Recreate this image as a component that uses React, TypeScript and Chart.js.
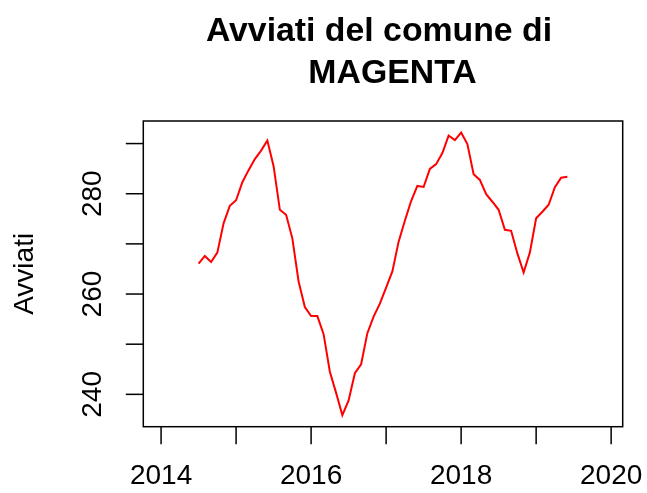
import React, { useEffect, useRef } from "react";
import { Chart, registerables } from "chart.js";

Chart.register(...registerables);

// Monthly series, starting January 2014 (centred moving average: first and last 6 months missing)
const startYear = 2014;
const avviati: (number | null)[] = [
  null, null, null, null, null, null,
  266.05, 267.6, 266.4, 268.25, 274.1, 277.6,
  278.7, 282.3, 284.7, 286.9, 288.6, 290.6,
  285.5, 276.8, 275.8, 271.1, 262.5, 257.4,
  255.6, 255.6, 252.0, 244.5, 240.3, 235.85,
  238.8, 244.2, 246.0, 252.2, 255.5, 258.1,
  261.3, 264.5, 270.45, 274.6, 278.55, 281.55,
  281.35, 284.95, 285.9, 288.1, 291.6, 290.7,
  292.2, 289.9, 283.9, 282.75, 279.9, 278.4,
  276.8, 272.8, 272.6, 268.1, 264.3, 268.3,
  275.1, 276.4, 277.8, 281.3, 283.2, 283.4,
  null, null, null, null, null, null,
];

const xTicks = [2014, 2015, 2016, 2017, 2018, 2019, 2020];
const xTickLabels = ["2014", "", "2016", "", "2018", "", "2020"];
const yTicks = [240, 250, 260, 270, 280, 290];
const yTickLabels = ["240", "", "260", "", "280", ""];
const titleLines = ["Avviati del comune di", "MAGENTA"];
const yTitle = "Avviati";

const FONT = "'Liberation Sans', Arial, Helvetica, sans-serif";

const rAxesPlugin = {
  id: "rAxes",
  afterDraw(chart: any) {
    const { ctx, chartArea, scales } = chart;
    const { left, right, top, bottom } = chartArea;
    const xs = scales.x;
    const ys = scales.y;
    const tick = 17.5;
    ctx.save();
    ctx.strokeStyle = "#000";
    ctx.fillStyle = "#000";
    ctx.lineWidth = 1.5;
    // box
    ctx.strokeRect(left, top, right - left, bottom - top);

    // x axis ticks & labels
    ctx.font = `28px ${FONT}`;
    ctx.textAlign = "center";
    ctx.textBaseline = "alphabetic";
    xTicks.forEach((v, i) => {
      const px = xs.getPixelForValue(v);
      ctx.beginPath();
      ctx.moveTo(px, bottom);
      ctx.lineTo(px, bottom + tick);
      ctx.stroke();
      if (xTickLabels[i]) ctx.fillText(xTickLabels[i], px, bottom + 57);
    });

    // y axis ticks & labels (rotated, R style)
    yTicks.forEach((v, i) => {
      const py = ys.getPixelForValue(v);
      ctx.beginPath();
      ctx.moveTo(left, py);
      ctx.lineTo(left - tick, py);
      ctx.stroke();
      if (yTickLabels[i]) {
        ctx.save();
        ctx.translate(left - 42.5, py);
        ctx.rotate(-Math.PI / 2);
        ctx.fillText(yTickLabels[i], 0, 0);
        ctx.restore();
      }
    });

    // y title
    ctx.save();
    ctx.translate(left - 110, (top + bottom) / 2);
    ctx.rotate(-Math.PI / 2);
    ctx.fillText(yTitle, 0, 0);
    ctx.restore();

    // main title
    const cx = (left + right) / 2;
    ctx.font = `bold 33.8px ${FONT}`;
    ctx.fillText(titleLines[0], cx - 4, top - 80);
    ctx.fillText(titleLines[1], cx + 9.5, top - 38.3);
    ctx.restore();
  },
};

export default function App() {
  const canvasRef = useRef<HTMLCanvasElement | null>(null);

  useEffect(() => {
    const canvas = canvasRef.current;
    if (!canvas) return;
    const points = avviati.map((v, i) => ({ x: startYear + i / 12, y: v }));
    const chart = new Chart(canvas, {
      type: "line",
      data: {
        datasets: [
          {
            data: points as any,
            borderColor: "#FF0000",
            borderWidth: 2,
            pointRadius: 0,
            fill: false,
            tension: 0,
            spanGaps: false,
          },
        ],
      },
      options: {
        animation: false,
        responsive: false,
        devicePixelRatio: 1,
        layout: { padding: { left: 143.3, right: 24.3, top: 121, bottom: 66.3 } },
        scales: {
          x: { type: "linear", min: 2013.763, max: 2020.154, display: false },
          y: { type: "linear", min: 233.55, max: 294.5, display: false },
        },
        plugins: {
          legend: { display: false },
          title: { display: false },
          tooltip: { enabled: false },
        },
      },
      plugins: [rAxesPlugin],
    });
    return () => chart.destroy();
  }, []);

  return (
    <div style={{ position: "fixed", left: 0, top: 0, width: 647, height: 493, background: "#fff" }}>
      <canvas ref={canvasRef} width={647} height={493} style={{ width: 647, height: 493 }} />
    </div>
  );
}
